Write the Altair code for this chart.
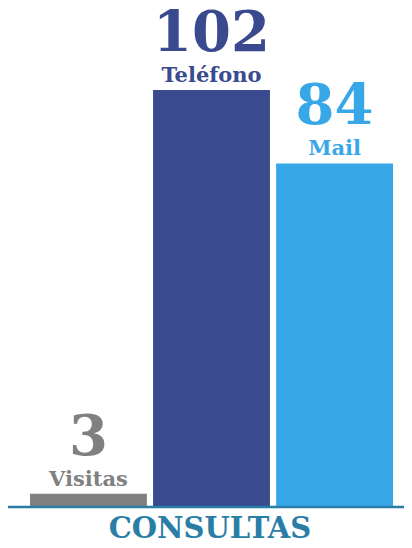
import altair as alt
import pandas as pd

categories = ["Visitas", "Teléfono", "Mail"]
values = [3, 102, 84]
colors = ["#808080", "#3a4a8e", "#38a7e7"]
axis_title = "CONSULTAS"
axis_color = "#2a7ea6"

df = pd.DataFrame({"cat": categories, "val": values})

x = alt.X("cat:N", sort=categories, axis=None,
          scale=alt.Scale(range=[22, 385], paddingInner=0.05, paddingOuter=0))
y = alt.Y("val:Q", axis=None, scale=alt.Scale(domain=[0, 102], range=[498, 82], nice=False, zero=True))
color = alt.Color("cat:N", scale=alt.Scale(domain=categories, range=colors), legend=None)

base = alt.Chart(df).encode(x=x, y=y, color=color)

bars = base.mark_bar()
labels = base.mark_text(baseline="alphabetic", dy=-8, fontSize=21,
                        font="DejaVu Serif", fontWeight="bold").encode(text="cat:N")
nums = base.mark_text(baseline="alphabetic", dy=-39, fontSize=56,
                      font="DejaVu Serif", fontWeight="bold").encode(text="val:Q")

line = alt.Chart(pd.DataFrame({"a": [0]})).mark_rule(color=axis_color, strokeWidth=2.5).encode(
    x=alt.value(-1), x2=alt.value(396), y=alt.value(499))
title = alt.Chart(pd.DataFrame({"t": [axis_title]})).mark_text(
    baseline="alphabetic", fontSize=29, font="DejaVu Serif", fontWeight="bold", color=axis_color
).encode(x=alt.value(202), y=alt.value(530), text="t:N")

chart = alt.layer(bars, labels, nums, line, title).properties(
    width=396, height=532, autosize=alt.AutoSizeParams(type="none"), padding=0
).configure_view(stroke=None)

chart.save("out.html", embed_options={"renderer": "svg", "actions": False})
